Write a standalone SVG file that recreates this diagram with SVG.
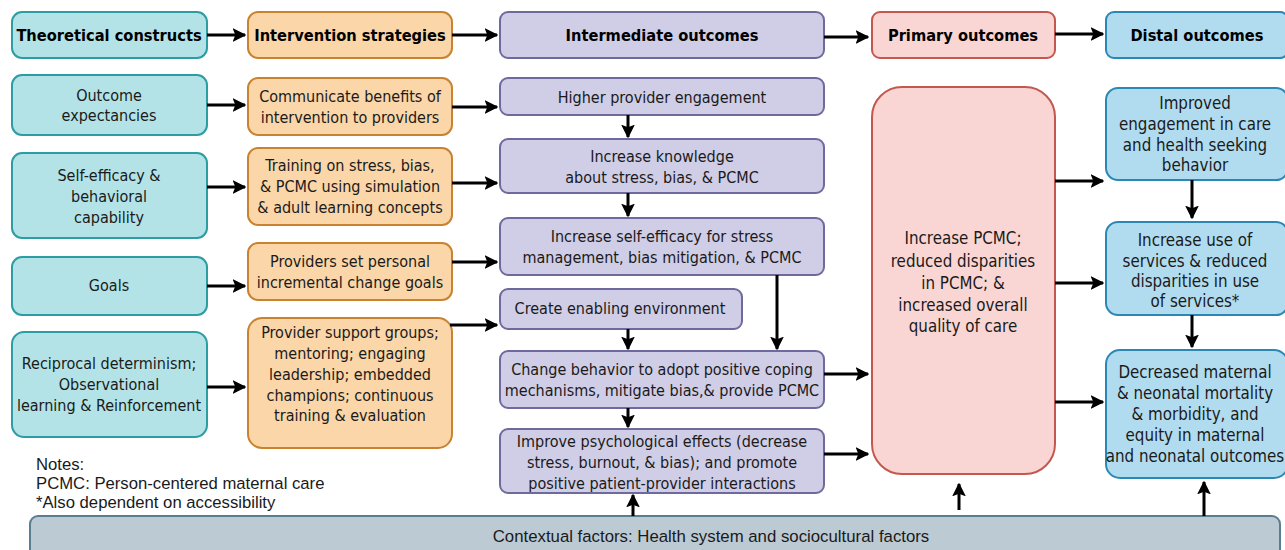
<svg xmlns="http://www.w3.org/2000/svg" width="1285" height="550" viewBox="0 0 1285 550">
<defs>
<marker id="ah" viewBox="0 0 10 10" refX="9" refY="5" markerWidth="4.6" markerHeight="4.6" orient="auto" markerUnits="strokeWidth">
<path d="M0,0 L10,5 L0,10 L2,5 z" fill="#000"/>
</marker>
<style>
.t{fill:#b3e3e6;stroke:#2b9da3;stroke-width:2}
.o{fill:#fad6a8;stroke:#c98330;stroke-width:2}
.l{fill:#d0cde6;stroke:#6f6a9d;stroke-width:2}
.p{fill:#f9d6d3;stroke:#c4574e;stroke-width:2}
.b{fill:#b1dcef;stroke:#2a87b6;stroke-width:2}
.g{fill:#bccad4;stroke:#5b7d90;stroke-width:2}
text{font-family:"DejaVu Sans Condensed","DejaVu Sans",sans-serif;font-size:16px;fill:#1a1a1a;text-anchor:middle}
.h{font-weight:bold;font-size:16.3px;fill:#000}
.m{font-size:16.8px}
.n{font-family:"Liberation Sans",Arial,sans-serif;text-anchor:start;font-size:16.7px}
.c{font-family:"Liberation Sans",Arial,sans-serif;font-size:16.8px}
.a{stroke:#000;stroke-width:3;fill:none;marker-end:url(#ah)}
</style>
</defs>
<rect width="1285" height="550" fill="#fff"/>

<g id="hdr-theory"><rect class="t" x="12" y="12" width="195" height="46" rx="10"/><text class="h" x="109" y="41">Theoretical constructs</text></g>
<g id="hdr-interv"><rect class="o" x="248" y="12" width="204" height="46" rx="10"/><text class="h" x="350" y="41">Intervention strategies</text></g>
<g id="hdr-inter"><rect class="l" x="500" y="12" width="324" height="46" rx="8"/><text class="h" x="662" y="41">Intermediate outcomes</text></g>
<g id="hdr-primary"><rect class="p" x="872" y="12" width="183" height="46" rx="8"/><text class="h" x="963" y="41">Primary outcomes</text></g>
<g id="hdr-distal"><rect class="b" x="1106" y="12" width="182" height="46" rx="8"/><text class="h" x="1197" y="41">Distal outcomes</text></g>

<g id="tc1"><rect class="t" x="12" y="75" width="195" height="60" rx="10"/><text x="109" y="101">Outcome</text><text x="109" y="121">expectancies</text></g>
<g id="tc2"><rect class="t" x="12" y="153" width="195" height="85" rx="10"/><text x="109" y="181">Self-efficacy &amp;</text><text x="109" y="202">behavioral</text><text x="109" y="223">capability</text></g>
<g id="tc3"><rect class="t" x="12" y="257" width="195" height="58" rx="10"/><text x="109" y="291">Goals</text></g>
<g id="tc4"><rect class="t" x="12" y="332" width="195" height="105" rx="12"/><text x="109" y="369">Reciprocal determinism;</text><text x="109" y="390">Observational</text><text x="109" y="411">learning &amp; Reinforcement</text></g>

<g id="is1"><rect class="o" x="248" y="78" width="204" height="57" rx="10"/><text x="350" y="102">Communicate benefits of</text><text x="350" y="123">intervention to providers</text></g>
<g id="is2"><rect class="o" x="248" y="148" width="204" height="77" rx="10"/><text x="350" y="171">Training on stress, bias,</text><text x="350" y="192">&amp; PCMC using simulation</text><text x="350" y="213">&amp; adult learning concepts</text></g>
<g id="is3"><rect class="o" x="248" y="243" width="204" height="57" rx="10"/><text x="350" y="267">Providers set personal</text><text x="350" y="288">incremental change goals</text></g>
<g id="is4"><rect class="o" x="248" y="318" width="204" height="130" rx="14"/><text x="350" y="338">Provider support groups;</text><text x="350" y="359">mentoring; engaging</text><text x="350" y="380">leadership; embedded</text><text x="350" y="401">champions; continuous</text><text x="350" y="421">training &amp; evaluation</text></g>

<g id="io1"><rect class="l" x="500" y="78" width="324" height="37" rx="8"/><text x="662" y="103">Higher provider engagement</text></g>
<g id="io2"><rect class="l" x="500" y="139" width="324" height="54" rx="8"/><text x="662" y="162">Increase knowledge</text><text x="662" y="183">about stress, bias, &amp; PCMC</text></g>
<g id="io3"><rect class="l" x="500" y="218" width="324" height="57" rx="8"/><text x="662" y="242">Increase self-efficacy for stress</text><text x="662" y="263">management, bias mitigation, &amp; PCMC</text></g>
<g id="io4"><rect class="l" x="500" y="289" width="242" height="40" rx="8"/><text x="620" y="314">Create enabling environment</text></g>
<g id="io5"><rect class="l" x="500" y="351" width="324" height="57" rx="8"/><text x="662" y="375">Change behavior to adopt positive coping</text><text x="662" y="396">mechanisms, mitigate bias,&amp; provide PCMC</text></g>
<g id="io6"><rect class="l" x="500" y="429" width="324" height="64" rx="8"/><text x="662" y="447">Improve psychological effects (decrease</text><text x="662" y="468">stress, burnout, &amp; bias); and promote</text><text x="662" y="489">positive patient-provider interactions</text></g>

<g id="po"><rect class="p" x="872" y="87" width="183" height="387" rx="30"/><text class="m" x="963" y="244">Increase PCMC;</text><text class="m" x="963" y="267">reduced disparities</text><text class="m" x="963" y="289">in PCMC; &amp;</text><text class="m" x="963" y="311">increased overall</text><text class="m" x="963" y="332">quality of care</text></g>

<g id="do1"><rect class="b" x="1106" y="88" width="182" height="92" rx="12"/><text class="m" x="1195" y="109">Improved</text><text class="m" x="1195" y="130">engagement in care</text><text class="m" x="1195" y="151">and health seeking</text><text class="m" x="1195" y="171">behavior</text></g>
<g id="do2"><rect class="b" x="1106" y="222" width="182" height="93" rx="12"/><text class="m" x="1195" y="246">Increase use of</text><text class="m" x="1195" y="267">services &amp; reduced</text><text class="m" x="1195" y="287">disparities in use</text><text class="m" x="1195" y="307">of services*</text></g>
<g id="do3"><rect class="b" x="1106" y="350" width="182" height="128" rx="14"/><text class="m" x="1195" y="378">Decreased maternal</text><text class="m" x="1195" y="399">&amp; neonatal mortality</text><text class="m" x="1195" y="420">&amp; morbidity, and</text><text class="m" x="1195" y="441">equity in maternal</text><text class="m" x="1195" y="462">and neonatal outcomes</text></g>

<g id="notes"><text class="n" x="36" y="470">Notes:</text><text class="n" x="36" y="489">PCMC: Person-centered maternal care</text><text class="n" x="36" y="508">*Also dependent on accessibility</text></g>

<g id="ctx"><rect class="g" x="30" y="516" width="1250" height="50" rx="8"/><text class="c" x="711" y="542">Contextual factors: Health system and sociocultural factors</text></g>

<g id="connectors">
<path class="a" d="M207,35 H245"/>
<path class="a" d="M452,35 H497"/>
<path class="a" d="M824,37 H868"/>
<path class="a" d="M1055,34 H1103"/>
<path class="a" d="M207,105 H245"/>
<path class="a" d="M207,187 H245"/>
<path class="a" d="M207,286 H245"/>
<path class="a" d="M207,387 H245"/>
<path class="a" d="M452,107 H497"/>
<path class="a" d="M452,183 H497"/>
<path class="a" d="M452,262 H497"/>
<path class="a" d="M450,325 H497"/>
<path class="a" d="M628,115 V137"/>
<path class="a" d="M628,193 V216"/>
<path class="a" d="M628,329 V349"/>
<path class="a" d="M628,408 V427"/>
<path class="a" d="M777,275 V349"/>
<path class="a" d="M824,374 H868"/>
<path class="a" d="M824,454 H868"/>
<path class="a" d="M1055,181 H1103"/>
<path class="a" d="M1055,283 H1103"/>
<path class="a" d="M1055,402 H1103"/>
<path class="a" d="M1192,180 V218"/>
<path class="a" d="M1192,315 V347"/>
<path class="a" d="M633,516 V495"/>
<path class="a" d="M959,510 V484"/>
<path class="a" d="M1204,516 V482"/>
</g>
</svg>
